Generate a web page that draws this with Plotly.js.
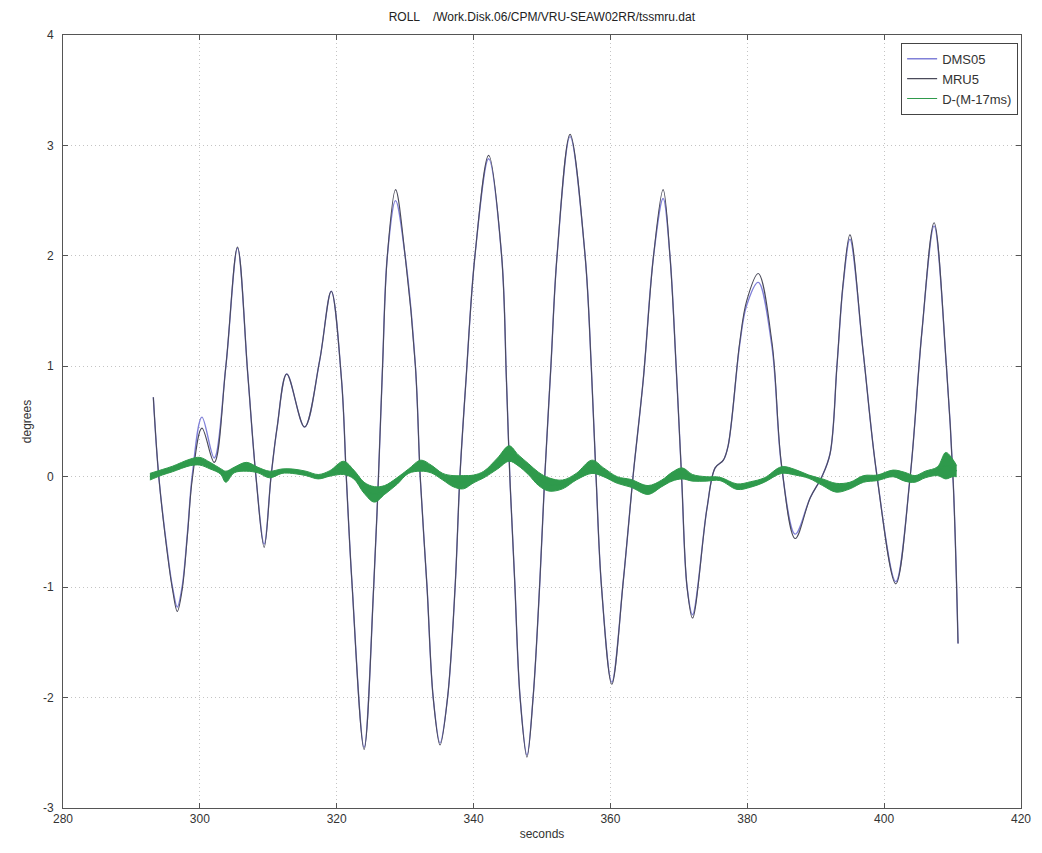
<!DOCTYPE html>
<html>
<head>
<meta charset="utf-8">
<script src="https://cdn.plot.ly/plotly-3.0.1.min.js"></script>
<style>html,body{margin:0;padding:0;background:#fff;}#chart{width:1042px;height:853px;}</style>
</head>
<body>
<div id="chart"></div>
<script>
// Roll time (seconds) of points
const rollTime = [293.2, 294.0, 295.3, 296.0, 296.7, 297.4, 298.2, 298.9, 300.3, 302.1,
  303.8, 305.5, 307.0, 308.2, 309.4, 310.4, 311.3, 312.7, 315.3, 317.5,
  319.2, 320.7, 321.4, 322.2, 324.0, 325.4, 326.1, 326.7, 327.4, 328.6,
  330.0, 331.5, 332.2, 333.2, 334.1, 335.1, 336.2, 337.3, 338.0, 338.9,
  340.2, 342.2, 344.1, 344.8, 345.3, 346.0, 346.8, 347.8, 348.7, 349.7,
  350.4, 351.3, 352.2, 354.1, 356.3, 357.2, 357.9, 358.7, 360.2, 361.9,
  363.3, 364.8, 366.3, 367.7, 368.7, 369.6, 370.4, 371.2, 372.0, 374.1,
  375.3, 376.5, 377.2, 378.9, 379.9, 381.6, 383.6, 385.0, 387.0, 389.2,
  390.9, 392.1, 393.1, 394.0, 395.0, 396.9, 398.9, 401.7, 403.8, 405.5,
  407.3, 409.1, 410.1, 410.8];
// DMS05 roll (degrees)
const dmsRoll = [0.72, 0.0, -0.70, -1.0, -1.18, -1.0, -0.5, 0.02, 0.54, 0.17,
  1.0, 2.07, 0.93, 0.0, -0.61, 0.0, 0.45, 0.93, 0.45, 1.05,
  1.68, 0.88, 0.0, -0.93, -2.45, -1.0, 0.0, 1.0, 2.0, 2.50,
  2.0, 1.0, 0.0, -1.0, -2.0, -2.41, -2.0, -1.0, 0.0, 0.88,
  2.0, 2.88, 2.0, 0.88, 0.0, -0.93, -2.0, -2.52, -2.0, -0.93,
  0.0, 1.0, 2.0, 3.08, 2.0, 1.0, 0.0, -1.0, -1.86, -0.93,
  0.0, 0.88, 2.0, 2.52, 2.0, 1.0, 0.0, -1.0, -1.25, -0.29,
  0.08, 0.15, 0.28, 1.20, 1.55, 1.76, 1.18, 0.10, -0.52, -0.19,
  0.0, 0.21, 1.0, 1.73, 2.15, 1.15, 0.03, -0.95, 0.0, 1.3,
  2.27, 1.0, -0.06, -1.51];
// MRU5 roll (degrees)
const mruRoll = [0.72, 0.0, -0.72, -1.02, -1.22, -1.03, -0.52, -0.02, 0.44, 0.13,
  1.0, 2.08, 0.93, 0.0, -0.64, 0.0, 0.45, 0.93, 0.45, 1.05,
  1.68, 0.88, 0.0, -0.93, -2.47, -1.0, 0.0, 1.0, 2.0, 2.60,
  2.0, 1.0, 0.0, -1.0, -2.0, -2.43, -2.0, -1.0, 0.0, 0.88,
  2.0, 2.91, 2.0, 0.88, 0.0, -0.93, -2.0, -2.54, -2.0, -0.93,
  0.0, 1.0, 2.0, 3.10, 2.0, 1.0, 0.0, -1.0, -1.88, -0.93,
  0.0, 0.88, 2.0, 2.60, 2.0, 1.0, 0.0, -1.0, -1.28, -0.29,
  0.08, 0.15, 0.28, 1.22, 1.59, 1.84, 1.22, 0.11, -0.56, -0.19,
  0.0, 0.21, 1.0, 1.75, 2.19, 1.15, 0.03, -0.97, 0.0, 1.3,
  2.30, 1.0, -0.06, -1.51];
// Difference D-(M-17ms): centre value and noise half-width
const diffTime = [292.7, 294.5, 296.0, 298.6, 300.0, 301.5, 303.0, 303.8, 305.0, 306.8,
  308.5, 310.2, 312.0, 313.5, 315.5, 317.3, 319.0, 321.0, 322.5, 324.0,
  325.5, 327.0, 328.8, 330.5, 332.3, 333.8, 335.5, 337.0, 338.5, 340.0,
  341.5, 343.5, 345.2, 346.5, 348.0, 349.5, 351.0, 353.0, 355.0, 357.3,
  359.0, 361.0, 363.0, 365.5, 367.5, 369.0, 370.5, 372.0, 374.0, 376.0,
  378.5, 380.5, 382.5, 385.0, 387.0, 389.0, 391.0, 393.0, 395.0, 397.0,
  399.0, 401.3, 403.0, 404.5, 406.0, 407.8, 409.0, 410.0, 410.6];
const diffMid = [0.0, 0.04, 0.07, 0.13, 0.14, 0.10, 0.05, 0.0, 0.06, 0.09,
  0.06, 0.02, 0.05, 0.05, 0.03, 0.0, 0.03, 0.08, 0.02, -0.10,
  -0.16, -0.12, -0.04, 0.05, 0.10, 0.07, 0.0, -0.04, -0.05, -0.02,
  0.02, 0.12, 0.21, 0.15, 0.07, -0.02, -0.07, -0.07, 0.0, 0.09,
  0.04, -0.03, -0.06, -0.12, -0.06, 0.0, 0.03, -0.01, -0.02, -0.02,
  -0.09, -0.07, -0.03, 0.06, 0.04, 0.0, -0.05, -0.10, -0.08, -0.02,
  -0.01, 0.03, 0.0, -0.02, 0.02, 0.05, 0.10, 0.08, 0.05];
const diffSpread = [0.03, 0.025, 0.025, 0.03, 0.035, 0.03, 0.025, 0.05, 0.025, 0.04,
  0.025, 0.03, 0.02, 0.02, 0.02, 0.02, 0.025, 0.06, 0.04, 0.05,
  0.07, 0.04, 0.03, 0.02, 0.05, 0.035, 0.03, 0.05, 0.06, 0.035,
  0.03, 0.05, 0.07, 0.05, 0.05, 0.06, 0.06, 0.04, 0.03, 0.06,
  0.04, 0.03, 0.035, 0.04, 0.03, 0.04, 0.05, 0.03, 0.02, 0.015,
  0.025, 0.025, 0.02, 0.03, 0.025, 0.015, 0.03, 0.04, 0.03, 0.03,
  0.025, 0.03, 0.04, 0.03, 0.03, 0.04, 0.12, 0.08, 0.05];
const xTicks = [280, 300, 320, 340, 360, 380, 400, 420];
const yTicks = [-3, -2, -1, 0, 1, 2, 3, 4];

const greenCol = '#2f9a4c';
const diffHi = diffMid.map((v, i) => v + diffSpread[i]);
const diffLo = diffMid.map((v, i) => v - diffSpread[i]);

const traces = [
  {x: rollTime, y: dmsRoll, name: 'DMS05', mode: 'lines',
   line: {color: '#8080d8', width: 1.4, shape: 'spline', smoothing: 1}},
  {x: rollTime, y: mruRoll, name: 'MRU5', mode: 'lines',
   line: {color: '#4a4a5a', width: 1.1, shape: 'spline', smoothing: 1}},
  {x: diffTime, y: diffHi, mode: 'lines', showlegend: false, hoverinfo: 'skip',
   line: {color: greenCol, width: 1, shape: 'spline'}},
  {x: diffTime, y: diffLo, mode: 'lines', showlegend: false, hoverinfo: 'skip',
   fill: 'tonexty', fillcolor: greenCol,
   line: {color: greenCol, width: 1, shape: 'spline'}},
  {x: diffTime, y: diffMid, name: 'D-(M-17ms)', mode: 'lines',
   line: {color: greenCol, width: 1.2, shape: 'spline'}}
];

const axisCommon = {
  showline: true, mirror: 'ticks', linecolor: '#555', linewidth: 1,
  ticks: 'inside', ticklen: 5, tickcolor: '#555',
  showgrid: true, gridcolor: '#c4c4c4', griddash: '1px,3px', gridwidth: 1,
  zeroline: false,
  tickfont: {family: 'Liberation Sans, Arial, sans-serif', size: 12, color: '#333'}
};

const layout = {
  width: 1042, height: 853,
  margin: {l: 63, r: 21, t: 35, b: 45},
  paper_bgcolor: '#fff', plot_bgcolor: '#fff',
  title: {text: 'ROLL    /Work.Disk.06/CPM/VRU-SEAW02RR/tssmru.dat',
          font: {family: 'Liberation Sans, Arial, sans-serif', size: 12, color: '#222'},
          x: 0.52, xanchor: 'center', y: 0.985, yanchor: 'top'},
  xaxis: Object.assign({}, axisCommon, {
    range: [280, 420], tickvals: xTicks, ticktext: xTicks.map(String),
    title: {text: 'seconds', standoff: 4,
            font: {family: 'Liberation Sans, Arial, sans-serif', size: 12, color: '#333'}}
  }),
  yaxis: Object.assign({}, axisCommon, {
    range: [-3, 4], tickvals: yTicks, ticktext: yTicks.map(String),
    ticklabelstandoff: 6,
    title: {text: 'degrees', standoff: 8,
            font: {family: 'Liberation Sans, Arial, sans-serif', size: 12, color: '#333'}}
  }),
  legend: {x: 0.997, y: 0.99, xanchor: 'right', yanchor: 'top', traceorder: 'normal',
           bgcolor: '#fff', bordercolor: '#444', borderwidth: 1,
           font: {family: 'Liberation Sans, Arial, sans-serif', size: 13, color: '#333'},
           tracegroupgap: 0, itemwidth: 30},
  showlegend: true
};

Plotly.newPlot('chart', traces, layout, {displayModeBar: false, staticPlot: true});
</script>
</body>
</html>
